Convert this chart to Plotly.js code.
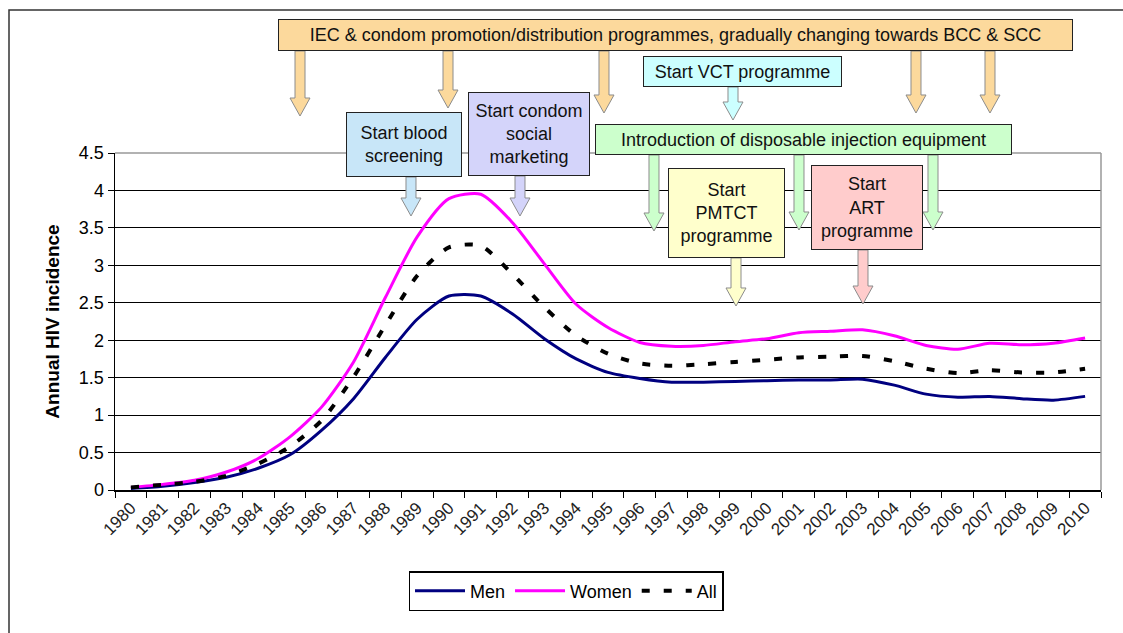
<!DOCTYPE html>
<html>
<head>
<meta charset="utf-8">
<script src="https://cdn.plot.ly/plotly-3.0.1.min.js"></script>
<style>
  html, body { margin: 0; padding: 0; background: #ffffff; }
  #chart { width: 1123px; height: 633px; }
</style>
</head>
<body>
<div id="chart"></div>
<script>
// ---- Data ----
const years = ['1980','1981','1982','1983','1984','1985','1986','1987','1988','1989',
               '1990','1991','1992','1993','1994','1995','1996','1997','1998','1999',
               '2000','2001','2002','2003','2004','2005','2006','2007','2008','2009','2010'];
const men   = [0.02,0.05,0.10,0.17,0.29,0.47,0.80,1.22,1.77,2.28,
               2.59,2.59,2.35,2.02,1.75,1.57,1.49,1.44,1.44,1.45,
               1.46,1.47,1.47,1.48,1.40,1.28,1.24,1.25,1.22,1.20,1.25];
const women = [0.035,0.075,0.13,0.24,0.42,0.71,1.11,1.71,2.57,3.38,
               3.89,3.95,3.57,3.02,2.48,2.17,1.97,1.92,1.93,1.98,
               2.02,2.10,2.12,2.14,2.06,1.93,1.88,1.96,1.94,1.96,2.03];
const allP  = [0.035,0.07,0.11,0.19,0.35,0.58,0.93,1.51,2.20,2.86,
               3.24,3.26,2.88,2.44,2.06,1.82,1.69,1.66,1.68,1.71,
               1.74,1.77,1.78,1.79,1.72,1.62,1.56,1.60,1.57,1.57,1.62];
const seriesNames = ['Men','Women','All'];
const yTitle = 'Annual HIV incidence';

// Intervention boxes (text)
const boxTexts = {
  iec: 'IEC & condom promotion/distribution programmes, gradually changing towards BCC & SCC',
  blood: 'Start blood<br>screening',
  condom: 'Start condom<br>social<br>marketing',
  vct: 'Start VCT programme',
  inj: 'Introduction of disposable injection equipment',
  pmtct: 'Start<br>PMTCT<br>programme',
  art: 'Start<br>ART<br>programme'
};

// ---- Layout geometry (pixels) ----
const W = 1123, H = 633;
const M = {l: 115, r: 22, t: 153, b: 143};
const PW = W - M.l - M.r, PH = H - M.t - M.b;
const px = x => (x - M.l) / PW;
const py = y => (H - M.b - y) / PH;
const FONT = 'Liberation Sans, Arial, sans-serif';

// ---- Traces ----
const traces = [
  {x: years, y: men, name: seriesNames[0], type: 'scatter', mode: 'lines',
   line: {color: '#000080', width: 3, shape: 'spline', smoothing: 0.7}},
  {x: years, y: women, name: seriesNames[1], type: 'scatter', mode: 'lines',
   line: {color: '#FF00FF', width: 3, shape: 'spline', smoothing: 0.7}},
  {x: years, y: allP, name: seriesNames[2], type: 'scatter', mode: 'lines',
   line: {color: '#000000', width: 4, dash: '8px,14px', shape: 'spline', smoothing: 0.7}}
];

// ---- Decorations ----
function arrowPath(cx, y0, y1) {
  const sw = 5, hw = 10, hl = 18;
  const pts = [[cx - sw, y0], [cx - sw, y1 - hl], [cx - hw, y1 - hl], [cx, y1],
               [cx + hw, y1 - hl], [cx + sw, y1 - hl], [cx + sw, y0]];
  return 'M' + pts.map(p => px(p[0]).toFixed(5) + ',' + py(p[1]).toFixed(5)).join(' L') + ' Z';
}
function arrow(cx, y0, y1, fill) {
  return {type: 'path', xref: 'paper', yref: 'paper', path: arrowPath(cx, y0, y1),
          fillcolor: fill, line: {color: '#8c8c8c', width: 1}, layer: 'above'};
}
const C = {
  iec: '#FCD99C', blood: '#C8E6F8', condom: '#D4D4FA', vct: '#CCFFFF',
  inj: '#CCFFCC', pmtct: '#FFFFCC', art: '#FFCCCC'
};

const shapes = [
  // outer chart frame
  {type: 'path', xref: 'paper', yref: 'paper',
   path: 'M' + px(9) + ',' + py(H + 5) + ' L' + px(9) + ',' + py(10) + ' L' + px(W + 5) + ',' + py(10),
   line: {color: '#333333', width: 1.5}},
  // plot area grey border (top & right)
  {type: 'line', xref: 'paper', yref: 'paper', x0: 0, x1: 1, y0: 1, y1: 1,
   line: {color: '#999999', width: 1.5}},
  {type: 'line', xref: 'paper', yref: 'paper', x0: 1, x1: 1, y0: 0, y1: 1,
   line: {color: '#999999', width: 1.5}},
  // arrows
  arrow(300, 51, 116, C.iec),
  arrow(448, 51, 108, C.iec),
  arrow(604, 51, 113, C.iec),
  arrow(916, 51, 113, C.iec),
  arrow(990, 51, 113, C.iec),
  arrow(411, 177, 216, C.blood),
  arrow(520, 176, 216, C.condom),
  arrow(733, 87, 120, C.vct),
  arrow(654, 155, 231, C.inj),
  arrow(799, 155, 230, C.inj),
  arrow(933, 155, 230, C.inj),
  arrow(736, 258, 306, C.pmtct),
  arrow(863, 250, 304, C.art)
];

function box(key, x0, x1, y0, y1) {
  return {xref: 'paper', yref: 'paper', x: px((x0 + x1) / 2), y: py((y0 + y1) / 2),
          xanchor: 'center', yanchor: 'middle', showarrow: false,
          text: boxTexts[key], align: 'center',
          width: x1 - x0 - 2, height: y1 - y0 - 2, borderpad: 0,
          bgcolor: C[key], bordercolor: '#222222', borderwidth: 1,
          font: {family: FONT, size: 18, color: '#111111'}};
}
const annotations = [
  box('iec', 278, 1073, 19, 51),
  box('blood', 346, 462, 112, 177),
  box('condom', 468, 590, 92, 176),
  box('vct', 643, 842, 56, 87),
  box('inj', 595, 1012, 124, 155),
  box('pmtct', 668, 785, 168, 258),
  box('art', 811, 923, 165, 250)
];

const layout = {
  width: W, height: H,
  margin: M,
  paper_bgcolor: '#ffffff', plot_bgcolor: '#ffffff',
  font: {family: FONT, color: '#000000'},
  showlegend: true,
  legend: {orientation: 'h', x: px(566), y: py(591), xanchor: 'center', yanchor: 'middle',
           bordercolor: '#000000', borderwidth: 1.5, bgcolor: '#ffffff',
           font: {family: FONT, size: 18, color: '#000000'}, itemwidth: 50, tracegroupgap: 0},
  xaxis: {type: 'category', range: [-0.5, 30.5], tickson: 'boundaries', showgrid: false,
          showline: true, linecolor: '#000000', linewidth: 1.5,
          ticks: 'outside', ticklen: 6, tickcolor: '#000000', tickwidth: 1,
          tickangle: -45, tickfont: {family: FONT, size: 17, color: '#222222'},
          zeroline: false, fixedrange: true},
  yaxis: {range: [0, 4.5], tick0: 0, dtick: 0.5,
          showgrid: true, gridcolor: '#000000', gridwidth: 1.2,
          showline: true, linecolor: '#000000', linewidth: 1.5,
          ticks: 'outside', ticklen: 6, tickcolor: '#000000',
          tickfont: {family: FONT, size: 18, color: '#000000'},
          zeroline: false, fixedrange: true,
          title: {text: '<b>' + yTitle + '</b>', standoff: 14,
                  font: {family: FONT, size: 19, color: '#000000'}}},
  shapes: shapes,
  annotations: annotations
};

Plotly.newPlot('chart', traces, layout, {displayModeBar: false, staticPlot: true});
</script>
</body>
</html>
